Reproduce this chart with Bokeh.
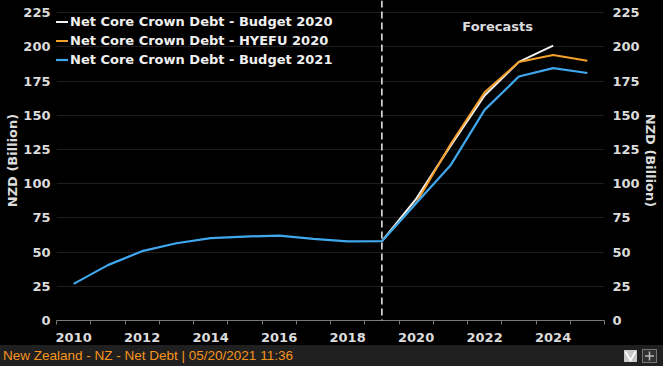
from bokeh.plotting import figure
from bokeh.models import (LinearAxis, FixedTicker, Span, Legend, LegendItem, Range1d, Div)
from bokeh.layouts import column
from bokeh.embed import file_html
from bokeh.resources import INLINE
from bokeh.core.properties import value

# ---------------- data ----------------
years_hist = [2010, 2011, 2012, 2013, 2014, 2015, 2016, 2017, 2018, 2019,
              2020, 2021, 2022, 2023, 2024, 2025]
budget_2021 = [26.8, 40.5, 50.7, 56.5, 60.2, 61.4, 62.1, 59.7, 57.8, 58.0,
               85.8, 113.3, 154.0, 178.4, 184.5, 181.0]
years_b2020 = [2019, 2020, 2021, 2022, 2023, 2024]
budget_2020 = [58.0, 89.0, 127.5, 164.5, 189.1, 201.0]
years_hyefu = [2019, 2020, 2021, 2022, 2023, 2024, 2025]
hyefu_2020 = [58.0, 86.0, 128.7, 166.9, 189.1, 194.2, 190.0]
tick_years = [2010, 2012, 2014, 2016, 2018, 2020, 2022, 2024]
y_ticks = [0, 25, 50, 75, 100, 125, 150, 175, 200, 225]
forecast_start = 2019
footer_text = "New Zealand - NZ - Net Debt | 05/20/2021 11:36"

# fiscal years end June 30 -> mid-year position
def mid(ys):
    return [y + 0.5 for y in ys]

FONT = "DejaVu Sans"
TXT = "#dcdcdc"
BG = "#000000"

p = figure(width=663, height=345, output_backend="svg", toolbar_location=None,
           x_range=Range1d(2010, 2026), y_range=Range1d(0, 234),
           background_fill_color=BG, border_fill_color=BG,
           min_border_left=56, min_border_right=59, min_border_top=0,
           min_border_bottom=25, outline_line_color=None)

# grid
p.xgrid.visible = False
p.ygrid.ticker = FixedTicker(ticks=y_ticks)
p.ygrid.grid_line_color = "#1e1e1e"
p.ygrid.grid_line_width = 1

# x axis
xa = p.xaxis[0]
xa.ticker = FixedTicker(ticks=mid(tick_years),
                        minor_ticks=list(range(2010, 2027)))
xa.major_label_overrides = {y + 0.5: str(y) for y in tick_years}
xa.major_tick_line_color = None
xa.major_tick_out = 0
xa.major_tick_in = 0
xa.minor_tick_line_color = "#7a7a7a"
xa.minor_tick_out = 4
xa.minor_tick_in = 0
xa.axis_line_color = "#7a7a7a"
xa.major_label_standoff = 8
xa.major_label_text_font = FONT
xa.major_label_text_font_style = "bold"
xa.major_label_text_font_size = "13px"
xa.major_label_text_color = TXT

# y axes
def style_y(ax):
    ax.ticker = FixedTicker(ticks=y_ticks)
    ax.axis_line_color = None
    ax.major_tick_line_color = None
    ax.minor_tick_line_color = None
    ax.major_tick_out = 0
    ax.major_tick_in = 0
    ax.major_label_standoff = 7
    ax.major_label_text_font = FONT
    ax.major_label_text_font_style = "bold"
    ax.major_label_text_font_size = "13px"
    ax.major_label_text_color = TXT
    ax.axis_label = "NZD (Billion)"
    ax.axis_label_text_font = FONT
    ax.axis_label_text_font_style = "bold"
    ax.axis_label_text_font_size = "13px"
    ax.axis_label_text_color = TXT
    ax.axis_label_standoff = 0

ya = p.yaxis[0]
style_y(ya)
ya.major_label_standoff = 6
ra = LinearAxis()
style_y(ra)
ra.major_label_standoff = 8
p.add_layout(ra, "right")

# forecast divider
p.add_layout(Span(location=forecast_start + 0.5, dimension="height",
                  line_color="#f0f0f0", line_width=1.5, line_dash="7 4"))

r_white = p.line(mid(years_b2020), budget_2020, line_color="#f2f2f2", line_width=2)
r_orange = p.line(mid(years_hyefu), hyefu_2020, line_color="#f5a02a", line_width=2)
r_blue = p.line(mid(years_hist), budget_2021, line_color="#3fa7ee", line_width=2.2)

p.text(x=[2022.88], y=[215], text=["Forecasts"], text_align="center",
       text_baseline="middle", text_font=value(FONT), text_font_style="bold",
       text_font_size="13px", text_color=TXT)

legend = Legend(items=[
    LegendItem(label="Net Core Crown Debt - Budget 2020", renderers=[r_white]),
    LegendItem(label="Net Core Crown Debt - HYEFU 2020", renderers=[r_orange]),
    LegendItem(label="Net Core Crown Debt - Budget 2021", renderers=[r_blue]),
], location=(-1, 251))
legend.background_fill_alpha = 0
legend.border_line_color = None
legend.padding = 0
legend.margin = 0
legend.spacing = 0
legend.glyph_width = 13
legend.glyph_height = 19
legend.label_height = 19
legend.label_standoff = 2
legend.label_text_font = FONT
legend.label_text_font_style = "bold"
legend.label_text_font_size = "13px"
legend.label_text_color = "#f0f0f0"
p.add_layout(legend)

# footer bar
icons_svg = (
    '<svg width="34" height="16" viewBox="0 0 34 16" style="display:block">'
    '<rect x="0" y="2" width="13" height="12" fill="#c8c8c8"/>'
    '<polyline points="1.5,3.5 6.5,12.5 11.5,3.5" fill="none" stroke="#ffffff" stroke-width="1.6"/>'
    '<rect x="18.5" y="1.5" width="14" height="13" fill="#303030" stroke="#777777"/>'
    '<line x1="25.5" y1="3.5" x2="25.5" y2="12.5" stroke="#bbbbbb" stroke-width="1.5"/>'
    '<line x1="21" y1="8" x2="30" y2="8" stroke="#bbbbbb" stroke-width="1.5"/>'
    '</svg>'
)
footer_html = (
    '<div style="display:flex;align-items:center;justify-content:space-between;'
    'width:663px;height:21px;background:#202020;box-sizing:border-box;padding:0 5px 0 3px;">'
    '<span style="color:#f7941d;font-family:\'Liberation Sans\';font-size:13.5px;'
    'white-space:nowrap;">' + footer_text + '</span>' + icons_svg + '</div>'
)
footer = Div(text=footer_html, width=663, height=21, margin=(0, 0, 0, 0),
             styles={"background-color": "#202020"})

layout = column(p, footer, spacing=0)

template = """
{% block postamble %}
<style>html, body { margin: 0 !important; padding: 0 !important; background: #000; }</style>
{% endblock %}
"""
open("out.html", "w").write(file_html(layout, INLINE, template=template))
